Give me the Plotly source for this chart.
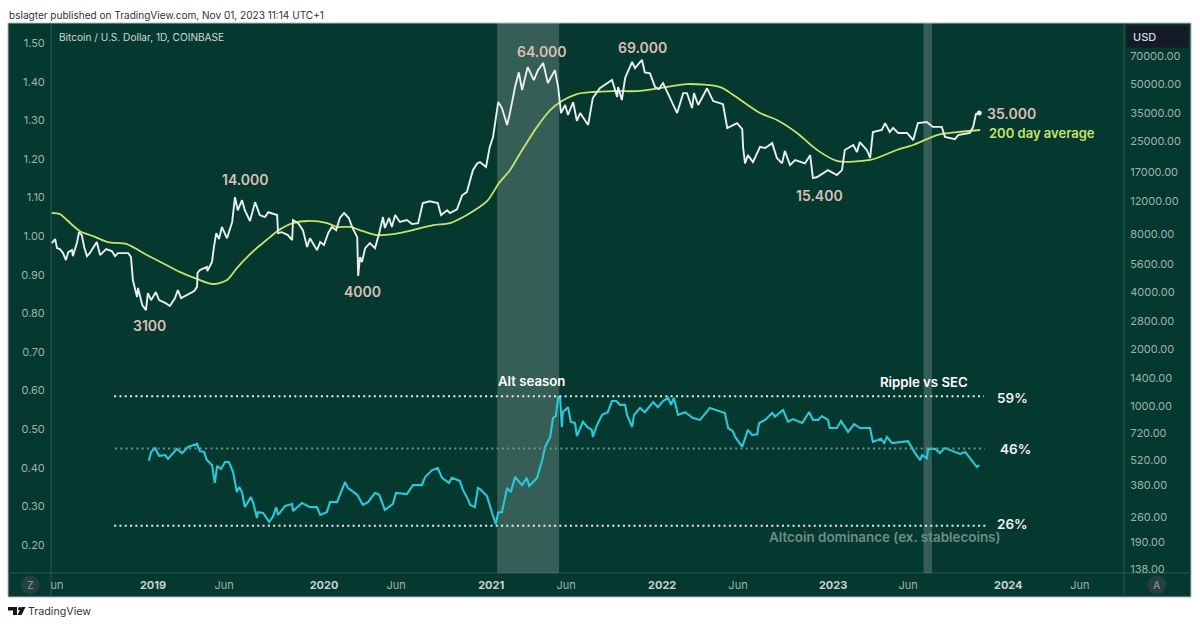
import pandas as pd
import plotly.graph_objects as go

# x positions are days counted from this date
day_zero = pd.Timestamp("2019-01-01")

btc_days = [-216, -209, -205, -199, -192, -186, -181, -173, -171, -162, -158, -152, -147, -141, -135, -120, -113, -100,
            -88, -81, -75, -53, -47, -43, -34, -32, -23, -15, -11, -4, 6, 13, 26, 36, 47, 53, 60, 73, 88, 94, 95, 100,
            115, 116, 126, 130, 135, 141, 147, 158, 169, 175, 181, 190, 196, 207, 218, 228, 239, 246, 265, 267, 275,
            288, 297, 299, 310, 320, 329, 335, 350, 357, 365, 374, 382, 391, 399, 408, 418, 425, 436, 438, 442, 446,
            453, 463, 474, 483, 491, 495, 504, 510, 517, 527, 542, 553, 566, 576, 591, 608, 615, 628, 634, 649, 660,
            670, 683, 692, 698, 711, 719, 726, 737, 745, 756, 762, 773, 781, 788, 800, 813, 822, 833, 843, 858, 865,
            871, 880, 886, 897, 905, 912, 929, 939, 954, 980, 991, 993, 1001, 1008, 1023, 1029, 1044, 1050, 1061, 1072,
            1080, 1089, 1104, 1119, 1132, 1140, 1151, 1155, 1164, 1183, 1196, 1217, 1226, 1247, 1258, 1260, 1264, 1270,
            1281, 1296, 1307, 1322, 1332, 1343, 1349, 1360, 1371, 1392, 1403, 1409, 1418, 1441, 1460, 1471, 1477, 1495,
            1503, 1509, 1524, 1531, 1537, 1556, 1563, 1573, 1580, 1591, 1610, 1623, 1633, 1652, 1665, 1684, 1691, 1712,
            1719, 1744, 1751, 1757, 1764]
btc_price = [7220, 7580, 6790, 6710, 6390, 5870, 6470, 6630, 6160, 7310, 8240, 7950, 6880, 6160, 6390, 7310, 6240, 6710,
             6550, 6160, 6390, 6390, 6090, 4610, 3750, 4190, 3400, 3200, 3930, 3610, 3980, 3610, 3490, 3360, 3700, 4080,
             3700, 3840, 4030, 4240, 5020, 5200, 5400, 5140, 5740, 6880, 8150, 7580, 8780, 7650, 9330, 12600, 10750,
             12150, 10750, 9440, 11860, 10150, 9900, 10500, 10150, 8150, 8240, 7950, 7490, 9550, 9200, 8450, 6880, 7650,
             6630, 7310, 7050, 8150, 8780, 8450, 9790, 10400, 9790, 8780, 7760, 4840, 6090, 5740, 6790, 7220, 6790, 8150,
             9900, 8670, 9790, 8780, 10150, 9330, 9550, 9090, 9200, 11730, 12000, 11730, 10150, 10750, 10400, 10880,
             12900, 13400, 17500, 19000, 19300, 18200, 23200, 26200, 40000, 37200, 30300, 35000, 48000, 57400, 46300,
             61200, 52300, 59000, 64300, 50400, 59000, 48000, 35000, 38600, 34200, 40000, 31800, 35000, 30300, 42000,
             47300, 52300, 42600, 48000, 41000, 53600, 65200, 60400, 66700, 57400, 56700, 48000, 46900, 50400, 42000,
             35000, 44600, 44600, 37200, 44600, 38600, 47300, 40500, 39000, 29200, 31000, 28800, 22900, 19000, 21000,
             19300, 23200, 22900, 24300, 20300, 19000, 22100, 18600, 19800, 19000, 21000, 15900, 16100, 17500, 16500,
             17500, 22350, 23750, 21800, 24600, 22350, 20300, 27800, 28500, 31000, 27800, 29200, 27500, 27500, 25200,
             31000, 31400, 29600, 29600, 26200, 25500, 26800, 27500, 29600, 34600, 35000]

ma_days = [-216, -199, -184, -156, -128, -96, -56, -13, 21, 58, 94, 128, 158, 179, 201, 224, 250, 265, 299, 331, 372,
           393, 421, 448, 478, 512, 555, 598, 634, 670, 713, 739, 762, 784, 820, 848, 873, 905, 939, 982, 1033, 1082,
           1140, 1211, 1239, 1296, 1332, 1375, 1418, 1460, 1531, 1588, 1623, 1674, 1717, 1766]
ma_price = [10400, 10270, 9550, 8340, 7860, 7310, 7130, 6240, 5650, 5070, 4670, 4390, 4610, 5330, 6090, 6880, 7760, 8340,
            9200, 9440, 9200, 8780, 8780, 8340, 7950, 8050, 8450, 8980, 9200, 10150, 12000, 15000, 17500, 21500, 29600,
            36300, 40500, 44100, 45200, 45700, 45700, 47300, 49800, 48000, 43600, 35000, 32200, 27500, 22350, 19600,
            19800, 22350, 23750, 26800, 27800, 28500]

dom_days = [-9, -4, 4, 13, 26, 32, 51, 62, 75, 94, 100, 109, 115, 126, 132, 137, 145, 154, 162, 171, 179, 184, 190, 196,
            209, 214, 222, 224, 235, 248, 256, 263, 267, 282, 297, 299, 318, 335, 350, 357, 371, 378, 393, 410, 416, 436,
            448, 459, 474, 483, 495, 512, 519, 542, 555, 574, 581, 596, 608, 617, 632, 638, 655, 662, 673, 677, 687, 694,
            698, 713, 724, 732, 737, 745, 756, 764, 773, 788, 798, 803, 820, 831, 837, 848, 854, 860, 865, 869, 873, 875,
            886, 892, 901, 905, 918, 927, 937, 939, 948, 959, 971, 980, 989, 997, 1008, 1012, 1023, 1027, 1040, 1050,
            1068, 1078, 1089, 1100, 1106, 1112, 1121, 1136, 1153, 1168, 1189, 1206, 1221, 1228, 1238, 1243, 1258, 1270,
            1279, 1290, 1294, 1307, 1322, 1328, 1345, 1356, 1366, 1386, 1401, 1409, 1420, 1428, 1441, 1445, 1460, 1469,
            1484, 1497, 1509, 1531, 1537, 1554, 1561, 1567, 1578, 1612, 1627, 1638, 1642, 1652, 1655, 1670, 1680, 1691,
            1708, 1723, 1734, 1751, 1759, 1764]
dom_value = [.418, .441, .451, .431, .433, .423, .449, .438, .454, .462, .443, .441, .420, .407, .361, .405, .397, .415,
             .415, .389, .337, .350, .337, .298, .324, .309, .270, .285, .283, .260, .273, .298, .278, .301, .306, .288,
             .309, .298, .298, .278, .285, .311, .311, .363, .348, .330, .304, .311, .335, .330, .291, .306, .335, .332,
             .355, .355, .376, .394, .399, .374, .361, .374, .366, .342, .317, .304, .298, .348, .345, .327, .283, .254,
             .285, .285, .348, .337, .376, .355, .374, .353, .374, .420, .454, .480, .529, .534, .583, .583, .506, .544,
             .557, .519, .516, .482, .519, .506, .498, .480, .511, .537, .544, .573, .573, .563, .563, .537, .506, .537,
             .555, .544, .570, .557, .573, .581, .563, .581, .537, .544, .529, .524, .555, .547, .542, .503, .495, .480,
             .454, .498, .485, .487, .516, .524, .542, .532, .550, .519, .526, .516, .544, .524, .524, .534, .524, .503,
             .503, .521, .493, .513, .503, .503, .467, .475, .464, .480, .464, .469, .438, .420, .433, .425, .449, .449,
             .438, .451, .443, .436, .441, .415, .402, .407]

# dotted dominance levels: value, first day, last day
level_values = [0.585, 0.45, 0.25]
level_starts = [-83, -81, -83]
level_ends = [1774, 1776, 1781]
level_colors = ["#e6ece9", "#6f9186", "#e6ece9"]

band_starts = [735, 1645]
band_ends = [867, 1663]

left_ticks = [1.5, 1.4, 1.3, 1.2, 1.1, 1.0, 0.9, 0.8, 0.7, 0.6, 0.5, 0.4, 0.3, 0.2]
right_ticks = [70000, 50000, 35000, 25000, 17000, 12000, 8000, 5600, 4000, 2800, 2000, 1400, 1000, 720, 520, 380, 260,
               190, 138]
time_tick_days = [-205, 0, 152, 365, 519, 722, 882, 1087, 1249, 1452, 1612, 1826, 1979]
time_tick_text = ["un", "2019", "Jun", "2020", "Jun", "2021", "Jun", "2022", "Jun", "2023", "Jun", "2024", "Jun"]

GREEN_BG = "#05392f"
STRIP = "#2a5a4e"
AXIS_TEXT = "#9db3ab"
NOTE = "#dcbfb6"
FONT = "Inter"

L, R, T, B = 51, 1124, 23, 573


def to_dates(days):
    return day_zero + pd.to_timedelta(days, unit="D")


def px(x):
    return (x - L) / (R - L)


def py(y):
    return (B - y) / (B - T)


def label(x, y, text, size=14, color="#ffffff", weight=600, anchor="center"):
    return dict(x=px(x), y=py(y), xref="paper", yref="paper", text=text, showarrow=False, xanchor=anchor,
                yanchor="middle", align=anchor, font=dict(family=FONT, size=size, color=color, weight=weight))


def box(x0, y0, x1, y1, fill, line=None, kind="rect"):
    return dict(type=kind, xref="paper", yref="paper", x0=px(x0), y0=py(y0), x1=px(x1), y1=py(y1), fillcolor=fill,
                line=dict(color=line or fill, width=1), layer="below")


def rule(x0, y0, x1, y1, color=STRIP):
    return dict(type="line", xref="paper", yref="paper", x0=px(x0), y0=py(y0), x1=px(x1), y1=py(y1),
                line=dict(color=color, width=1), layer="below")


def logo_path(points):
    parts = [f"{px(a):.5f},{py(b):.5f}" for a, b in points]
    return "M" + " L".join(parts) + " Z"


fig = go.Figure()

fig.add_trace(go.Scatter(x=to_dates(ma_days), y=ma_price, mode="lines",
                         line=dict(color="#c6e36c", width=1.8, shape="spline", smoothing=0.8)))
fig.add_trace(go.Scatter(x=to_dates(btc_days), y=btc_price, mode="lines", line=dict(color="#e9efec", width=1.9)))
fig.add_trace(go.Scatter(x=to_dates(btc_days[-1:]), y=btc_price[-1:], mode="markers",
                         marker=dict(color="#e9efec", size=5)))
fig.add_trace(go.Scatter(x=to_dates(dom_days), y=dom_value, mode="lines", yaxis="y2",
                         line=dict(color="#29c8da", width=2.1)))
for value, start, end, color in zip(level_values, level_starts, level_ends, level_colors):
    fig.add_trace(go.Scatter(x=to_dates([start, end]), y=[value, value], mode="lines", yaxis="y2",
                             line=dict(color=color, width=2, dash="2px,3.3px")))

shapes = [
    box(8, 23, 1191, 597, GREEN_BG, line="#aebcb7"),
    rule(L, 23, L, 597),
    rule(R, 23, R, 597),
    rule(8, B, 1191, B),
    box(1127, 26, 1188, 47, "#151a27"),
    box(21, 576, 39, 594, "#24403f", kind="circle"),
    box(1148, 576, 1166, 594, "#24403f", kind="circle"),
]
for start, end in zip(band_starts, band_ends):
    shapes.append(dict(type="rect", xref="x", yref="paper", x0=to_dates([start])[0], x1=to_dates([end])[0], y0=0, y1=1,
                       fillcolor="rgba(255,255,255,0.19)", line_width=0, layer="below"))
# TradingView mark
for points in [[(8, 607), (17, 607), (17, 615), (13, 615), (13, 610.5), (8, 610.5)],
               [(25.5, 607), (21.5, 615), (17.5, 615), (21.5, 607)]]:
    shapes.append(dict(type="path", xref="paper", yref="paper", path=logo_path(points), fillcolor="#131722",
                       line_width=0))
shapes.append(dict(type="circle", xref="paper", yref="paper", x0=px(18), y0=py(607), x1=px(21.5), y1=py(610.5),
                   fillcolor="#131722", line_width=0))

annotations = [
    label(7, 15, "bslagter published on TradingView.com, Nov 01, 2023 11:14 UTC+1", size=10.05, color="#30343c",
          weight=400, anchor="left"),
    label(57, 37, "Bitcoin / U.S. Dollar, 1D, COINBASE", size=10.1, color="#cdd8d3", weight=400, anchor="left"),
    label(26, 611, "TradingView", size=10.7, color="#30343c", weight=400, anchor="left"),
    label(1144, 37, "USD", size=11, color="#d5d9e2", weight=500),
    label(30, 585, "Z", size=10.5, color="#7f8f8e", weight=500),
    label(1157, 585, "A", size=10.5, color="#7f8f8e", weight=500),
    label(245, 179, "14.000", color=NOTE),
    label(149, 325, "3100", color=NOTE),
    label(362, 291, "4000", color=NOTE),
    label(542, 51, "64.000", color=NOTE),
    label(642, 48, "69.000", color=NOTE),
    label(819, 195, "15.400", color=NOTE),
    label(1011, 113, "35.000", color=NOTE),
    label(1042, 133, "200 day average", size=13, color="#c6e36c"),
    label(531, 381, "Alt season", size=13.2),
    label(924, 382, "Ripple vs SEC", size=13.2),
    label(1012, 398, "59%", size=13.5, color="#eef2f0"),
    label(1015, 449, "46%", size=13.5, color="#eef2f0"),
    label(1012, 524, "26%", size=13.5, color="#eef2f0"),
    label(884, 537, "Altcoin dominance (ex. stablecoins)", size=13.4, color="#6f8d84"),
]

time_labels = []
for text in time_tick_text:
    if text.isdigit():
        time_labels.append(f'<span style="color:#c9d4cf;font-weight:700">{text}</span>')
    else:
        time_labels.append(text)

fig.update_layout(
    width=1200,
    height=626,
    margin=dict(l=L, r=1200 - R, t=T, b=626 - B, autoexpand=False),
    paper_bgcolor="#ffffff",
    plot_bgcolor="rgba(0,0,0,0)",
    showlegend=False,
    shapes=shapes,
    annotations=annotations,
    font=dict(family=FONT, size=11, color=AXIS_TEXT),
    xaxis=dict(
        type="date",
        range=list(to_dates([-217.8, 2073.1])),
        tickvals=list(to_dates(time_tick_days)),
        ticktext=time_labels,
        tickangle=0,
        showgrid=False,
        zeroline=False,
        ticks="outside",
        ticklen=2,
        tickcolor="rgba(0,0,0,0)",
        tickfont=dict(size=11, color=AXIS_TEXT),
    ),
    yaxis=dict(
        type="log",
        side="right",
        range=[2.1183, 5.0192],
        tickvals=right_ticks,
        ticktext=[f"{v}.00" for v in right_ticks],
        showgrid=False,
        zeroline=False,
        ticks="outside",
        ticklen=3,
        tickcolor="rgba(0,0,0,0)",
        tickfont=dict(size=11, color=AXIS_TEXT),
    ),
    yaxis2=dict(
        overlaying="y",
        side="left",
        anchor="x",
        range=[0.1275, 1.552],
        tickvals=left_ticks,
        ticktext=[f"{v:.2f}" for v in left_ticks],
        showgrid=False,
        zeroline=False,
        ticks="outside",
        ticklen=3,
        tickcolor="rgba(0,0,0,0)",
        tickfont=dict(size=11, color=AXIS_TEXT),
    ),
)

fig.write_html("out.html", config={"displayModeBar": False}, post_script="document.body.style.margin='0';")
